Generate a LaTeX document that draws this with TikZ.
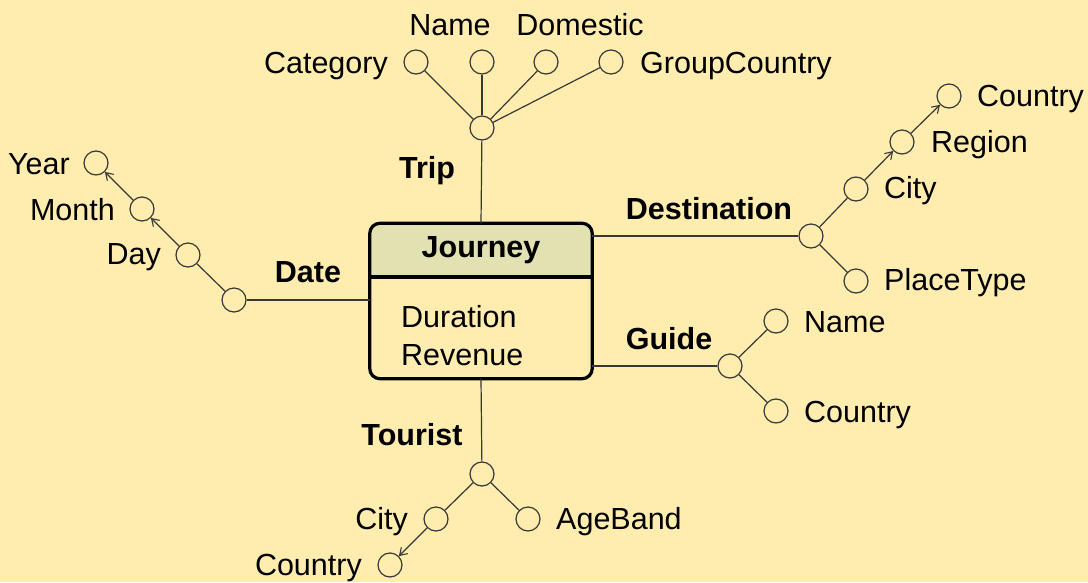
\documentclass[tikz,border=0pt]{standalone}
\usepackage{fontspec}
\setmainfont{Liberation Sans}
\usetikzlibrary{arrows.meta}
\definecolor{bg}{RGB}{255,237,176}
\definecolor{hdr}{RGB}{225,225,178}
\definecolor{ln}{RGB}{55,55,55}
\tikzset{
  attr/.style={circle, draw=ln, line width=1.2pt, minimum size=24pt, inner sep=0pt, fill=bg},
  conn/.style={draw=ln, line width=1.2pt},
  arr/.style={conn, -{Straight Barb[length=7pt,width=9pt,line width=1.1pt]}},
  txt/.style={inner sep=0pt, anchor=base, font=\fontsize{30.5}{36}\selectfont},
  txtl/.style={txt, anchor=base west},
  txtr/.style={txt, anchor=base east},
  dim/.style={txt, font=\fontsize{30.5}{36}\selectfont\bfseries},
}
\begin{document}
\begin{tikzpicture}[x=1pt,y=-1pt]
\useasboundingbox (0,0) rectangle (1088,582);
\fill[bg] (0,0) rectangle (1088,582);
% fact box
\node (journey) [minimum width=222pt, minimum height=155pt, inner sep=0pt] at (481,301) {};
\begin{scope}
  \clip (369,222) rectangle (594,277);
  \fill[hdr, rounded corners=10pt] (journey.south west) rectangle (journey.north east);
\end{scope}
\draw[line width=3.2pt, rounded corners=10pt] (journey.south west) rectangle (journey.north east);
\draw[line width=3.2pt] (journey.west |- 0,277) -- (journey.east |- 0,277);
\node[dim] (jtitle) at (481,257) {Journey};
\node[txtl] (dur) at (401,327) {Duration};
\node[txtl] (rev) at (401,365) {Revenue};
% Trip
\node[attr] (trip) at (482,128) {};
\node[attr] (tcat) at (416,62) {};
\node[attr] (tname) at (482,62) {};
\node[attr] (tdom) at (546,62) {};
\node[attr] (tgc) at (611,62) {};
\draw[conn] (journey.north) -- (trip);
\draw[conn] (trip) -- (tcat);
\draw[conn] (trip) -- (tname);
\draw[conn] (trip) -- (tdom);
\draw[conn] (trip) -- (tgc);
\node[dim] (triplbl) at (427,178) {Trip};
\node[txtr] (tcatl) at (388,73) {Category};
\node[txt] (tnamel) at (450,35) {Name};
\node[txt] (tdoml) at (580,35) {Domestic};
\node[txtl] (tgcl) at (640,73) {GroupCountry};
% Date
\node[attr] (date) at (234,300) {};
\node[attr] (day) at (188,255) {};
\node[attr] (month) at (142,209) {};
\node[attr] (year) at (96,163) {};
\draw[conn] (journey.west |- date) -- (date);
\draw[conn] (date) -- (day);
\draw[arr] (day) -- (month);
\draw[arr] (month) -- (year);
\node[dim] (datelbl) at (308,282) {Date};
\node[txtr] (dayl) at (161,264) {Day};
\node[txtr] (monthl) at (115,220) {Month};
\node[txtr] (yearl) at (70,174) {Year};
% Destination
\node[attr] (dest) at (811,236) {};
\node[attr] (dcity) at (856,189) {};
\node[attr] (dreg) at (902,142) {};
\node[attr] (dctry) at (949,96) {};
\node[attr] (dpt) at (856,281) {};
\draw[conn] (journey.east |- dest) -- (dest);
\draw[conn] (dest) -- (dcity);
\draw[conn] (dest) -- (dpt);
\draw[arr] (dcity) -- (dreg);
\draw[arr] (dreg) -- (dctry);
\node[dim] (destlbl) at (709,219) {Destination};
\node[txtl] (dcityl) at (884,198) {City};
\node[txtl] (dregl) at (931,152) {Region};
\node[txtl] (dctryl) at (977,106) {Country};
\node[txtl] (dptl) at (884,290) {PlaceType};
% Guide
\node[attr] (guide) at (730,366) {};
\node[attr] (gname) at (776,321) {};
\node[attr] (gctry) at (776,411) {};
\draw[conn] (journey.east |- guide) -- (guide);
\draw[conn] (guide) -- (gname);
\draw[conn] (guide) -- (gctry);
\node[dim] (guidelbl) at (669,349) {Guide};
\node[txtl] (gnamel) at (804,332) {Name};
\node[txtl] (gctryl) at (804,422) {Country};
% Tourist
\node[attr] (tour) at (482,474) {};
\node[attr] (tcity) at (436,519) {};
\node[attr] (tage) at (528,519) {};
\node[attr] (tctry) at (390,565) {};
\draw[conn] (journey.south) -- (tour);
\draw[conn] (tour) -- (tcity);
\draw[conn] (tour) -- (tage);
\draw[arr] (tcity) -- (tctry);
\node[dim] (tourlbl) at (412,445) {Tourist};
\node[txtr] (tcityl) at (408,529) {City};
\node[txtl] (tagel) at (556,529) {AgeBand};
\node[txtr] (tctryl) at (362,575) {Country};
\end{tikzpicture}
\end{document}
